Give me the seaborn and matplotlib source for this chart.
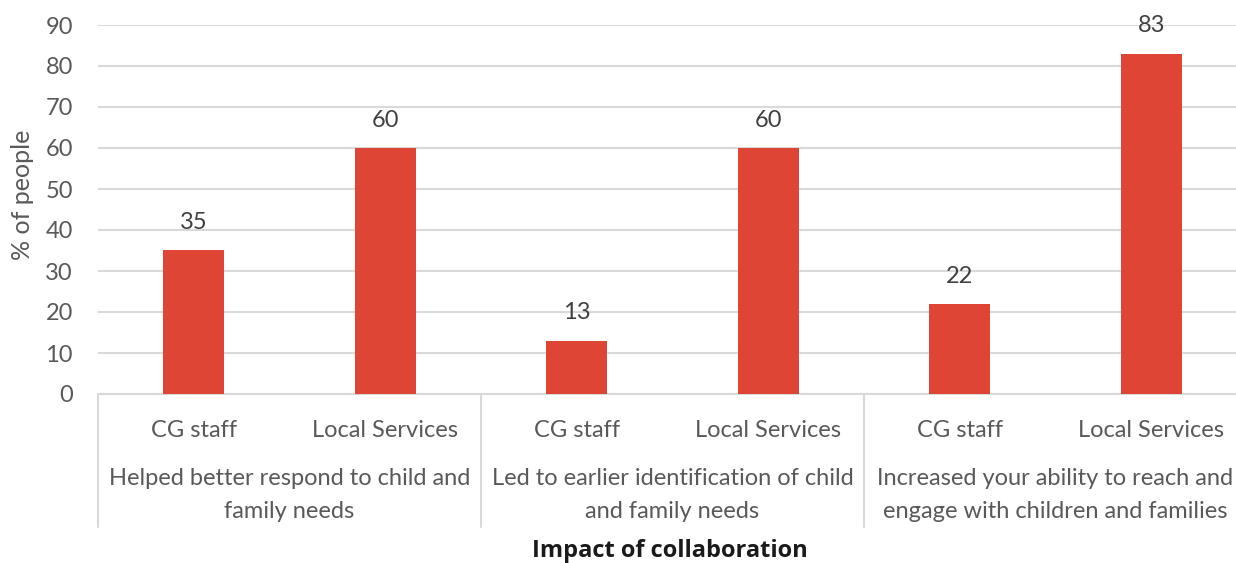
import matplotlib
matplotlib.use("Agg")
import matplotlib.pyplot as plt
import seaborn as sns
import pandas as pd

# Survey results: share of people reporting each impact, by respondent group
groups = [
    "Helped better respond to child and\nfamily needs",
    "Led to earlier identification of child\nand family needs",
    "Increased your ability to reach and\nengage with children and families",
]
respondents = ["CG staff", "Local Services"]
values = [35, 60, 13, 60, 22, 83]

rows = []
for gi, g in enumerate(groups):
    for ri, r in enumerate(respondents):
        rows.append({"slot": f"{gi}-{r}", "group": g, "respondent": r,
                     "pct": values[gi * len(respondents) + ri]})
df = pd.DataFrame(rows)

sns.set_theme(style="white")
plt.rcParams["font.family"] = ["Lato", "DejaVu Sans"]

W, H = 1236, 563
fig = plt.figure(figsize=(W / 100, H / 100), dpi=100)
x0, x1, ytop, ybot = 98, 1247, 25, 394
ax = fig.add_axes([x0 / W, (H - ybot) / H, (x1 - x0) / W, (ybot - ytop) / H])

bar_color = "#DE4535"
grid_color = "#D9D9D9"
text_color = "#595959"
fs = 17

sns.barplot(data=df, x="slot", y="pct", color=bar_color, width=0.32,
            saturation=1, linewidth=0, edgecolor="none", ax=ax, zorder=3)

ax.set_ylim(0, 90)
ax.set_xlim(-0.5, len(df) - 0.5)
ax.set_yticks(range(0, 91, 10))
ax.yaxis.grid(True, color=grid_color, linewidth=1.5, zorder=0)
ax.xaxis.grid(False)
for s in ["top", "right", "left"]:
    ax.spines[s].set_visible(False)
ax.spines["bottom"].set_color(grid_color)
ax.spines["bottom"].set_linewidth(1.5)
ax.tick_params(axis="y", length=0, pad=18, labelsize=fs, labelcolor=text_color)
ax.tick_params(axis="x", length=0, pad=19, labelsize=fs, labelcolor=text_color)
ax.set_xticks(range(len(df)))
ax.set_xticklabels(df["respondent"])
ax.set_xlabel("")
ax.set_ylabel("")

# Value labels above bars
for i, v in enumerate(df["pct"]):
    ax.annotate(f"{v}", xy=(i, v), xytext=(0, 20), textcoords="offset points",
                ha="center", va="center", fontsize=fs, color="#404040")

# Group separators and group labels below the axis
axis_h = ybot - ytop
sep_depth = (527 - ybot) / axis_h
n_r = len(respondents)
for gi in range(len(groups) + 1):
    xpos = gi * n_r - 0.5
    ax.plot([xpos, xpos], [0, -sep_depth], transform=ax.get_xaxis_transform(),
            color=grid_color, linewidth=1.5, clip_on=False)
for gi, g in enumerate(groups):
    xc = gi * n_r + (n_r - 1) / 2
    ax.text(xc, -(495 - ybot) / axis_h, g, transform=ax.get_xaxis_transform(),
            ha="center", va="center", fontsize=fs, color=text_color,
            linespacing=1.65)

fig.text(22 / W, 1 - 195 / H, "% of people", rotation=90, ha="center",
         va="center", fontsize=18, color=text_color)
fig.text(670 / W, 1 - 551 / H, "Impact of collaboration", ha="center",
         va="center", fontsize=17, fontweight="bold", color="#1a1a1a",
         family=["Open Sans", "DejaVu Sans"])

fig.savefig("out.png", dpi=100)
